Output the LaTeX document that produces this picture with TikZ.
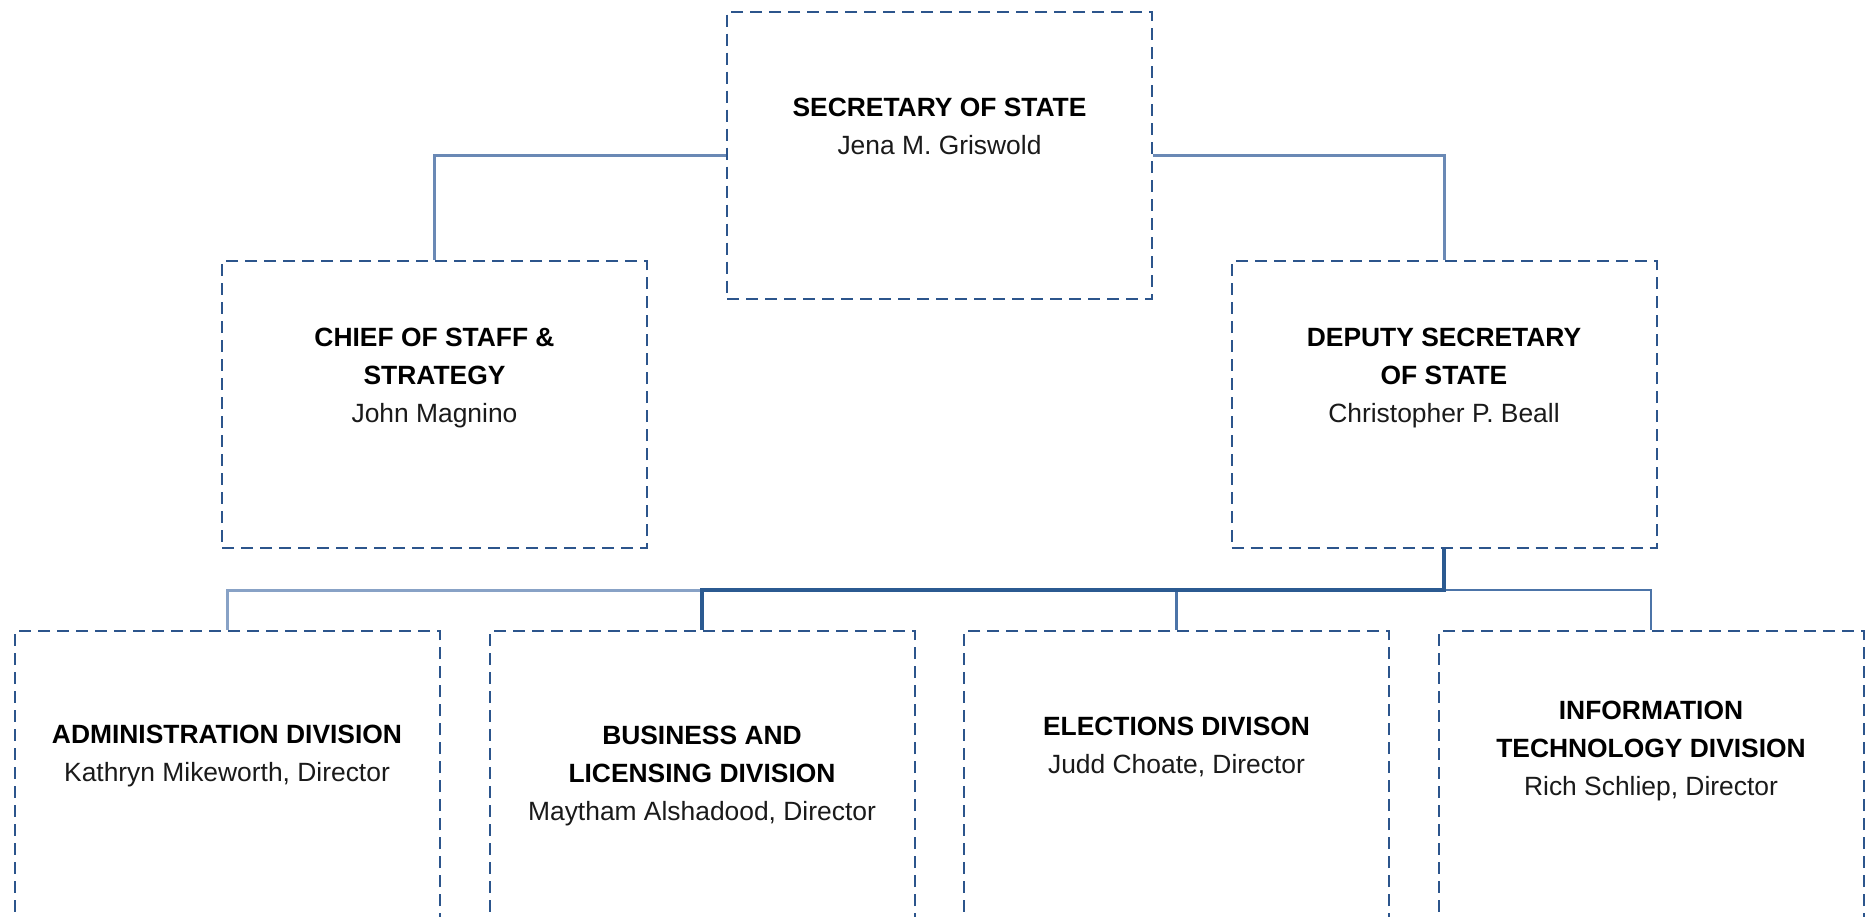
\documentclass[tikz,border=0pt]{standalone}
\usepackage{fontspec}
\setmainfont{Liberation Sans}
\definecolor{boxblue}{HTML}{2C558C}
\definecolor{linkblue}{HTML}{6A89B5}
\definecolor{busdark}{HTML}{2B5A91}
\definecolor{busmid}{HTML}{4C74A8}
\definecolor{buslight}{HTML}{88A2C6}
\definecolor{nametext}{HTML}{1A1A1A}
\begin{document}
\begin{tikzpicture}[x=0.5pt,y=-0.5pt,
  orgbox/.style={draw=boxblue, line width=1pt, dash pattern=on 6pt off 3.5pt,
    minimum width=212.5pt, minimum height=143.5pt, inner sep=0pt},
  lbl/.style={anchor=north, align=center, inner sep=0pt,
    font=\fontsize{13.2}{19}\selectfont},
  link/.style={draw=linkblue, line width=1.5pt},
  busthick/.style={draw=busdark, line width=2.2pt},
  busthin/.style={draw=busmid, line width=1.3pt},
  buspale/.style={draw=buslight, line width=1.5pt}]
\useasboundingbox (0,0) rectangle (1869,916);
\clip (0,0) rectangle (1869,916);
\fill[white] (0,0) rectangle (1869,916);

% boxes
\node[orgbox] (sec) at (939.5,155) {};
\node[orgbox] (cos) at (434.5,404.5) {};
\node[orgbox] (dep) at (1444,404.5) {};
\node[orgbox] (adm) at (227,774.5) {};
\node[orgbox] (bld) at (702,774.5) {};
\node[orgbox] (ele) at (1176.5,774.5) {};
\node[orgbox] (itd) at (1651,774.5) {};

% labels
\node[lbl] (secT) at (939.5,97.5) {\textbf{SECRETARY OF STATE}\\\textcolor{nametext}{Jena M. Griswold}};
\node[lbl] (cosT) at (434.5,327.5) {\textbf{CHIEF OF STAFF \&}\\\textbf{STRATEGY}\\\textcolor{nametext}{John Magnino}};
\node[lbl] (depT) at (1444,327.5) {\textbf{DEPUTY SECRETARY}\\\textbf{OF STATE}\\\textcolor{nametext}{Christopher P. Beall}};
\node[lbl] (admT) at (227,724.5) {\textbf{ADMINISTRATION DIVISION}\\\textcolor{nametext}{Kathryn Mikeworth, Director}};
\node[lbl] (bldT) at (702,725.5) {\textbf{BUSINESS AND}\\\textbf{LICENSING DIVISION}\\\textcolor{nametext}{Maytham Alshadood, Director}};
\node[lbl] (eleT) at (1176.5,716.5) {\textbf{ELECTIONS DIVISON}\\\textcolor{nametext}{Judd Choate, Director}};
\node[lbl] (itdT) at (1651,700.5) {\textbf{INFORMATION}\\\textbf{TECHNOLOGY DIVISION}\\\textcolor{nametext}{Rich Schliep, Director}};

% connectors
\coordinate (busY) at (0,590);
\draw[link] (sec.west) -| (cos.north);
\draw[link] (sec.east) -| (dep.north);
\draw[buspale] (bld.north |- busY) -| (adm.north);
\draw[busthin] (dep.south |- busY) -| (itd.north);
\draw[busthin] (ele.north |- busY) -- (ele.north);
\draw[busthick] (dep.south) |- (bld.north |- busY) -- (bld.north);
\end{tikzpicture}
\end{document}
